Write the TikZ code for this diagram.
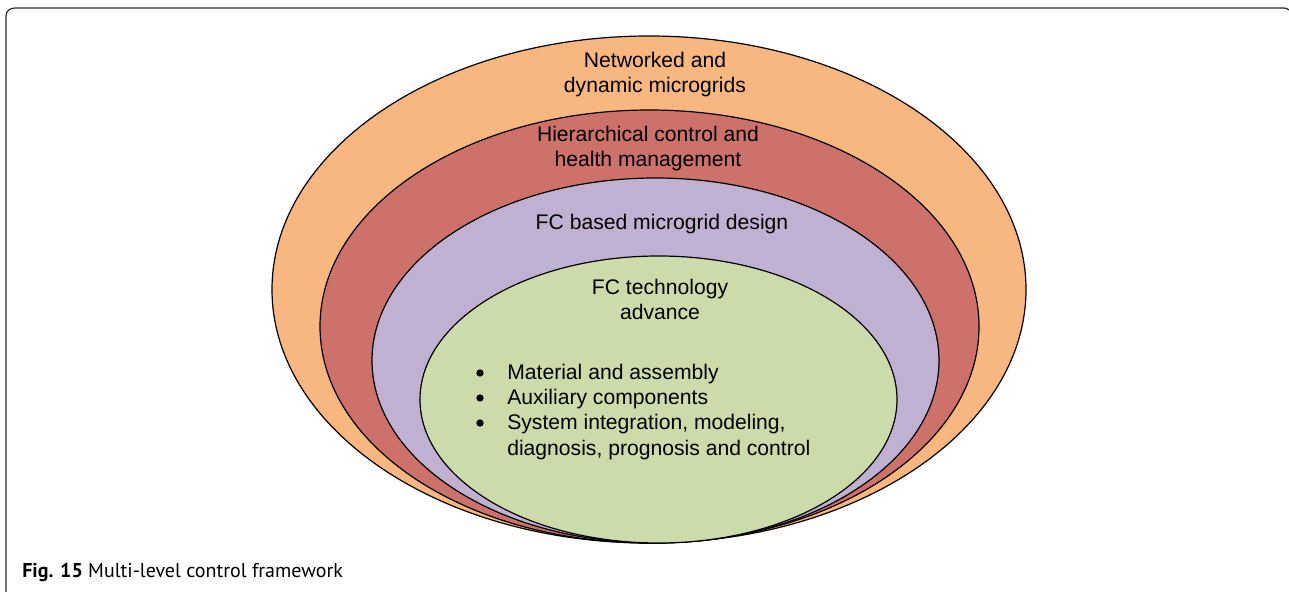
\documentclass[tikz,border=0pt]{standalone}
\usepackage{fontspec}
\setmainfont{Liberation Sans}
\newfontfamily\capfont{PT Sans}
\usepackage{tikz}

\definecolor{ringorange}{RGB}{248,183,128}
\definecolor{ringred}{RGB}{205,114,106}
\definecolor{ringpurple}{RGB}{192,177,211}
\definecolor{ringgreen}{RGB}{204,219,170}

\tikzset{
  ring/.style={draw=black, line width=0.9pt},
  label/.style={inner sep=0.75pt, align=center, font=\fontsize{15.85}{19}\selectfont},
  item/.style={inner sep=0.75pt, anchor=west, font=\fontsize{15.85}{19}\selectfont},
  dot/.style={circle, fill=black, inner sep=0pt, minimum size=5.5pt}
}

\begin{document}
\begin{tikzpicture}[x=0.75pt,y=0.75pt,yscale=-1,xscale=1]
\useasboundingbox (0,0) rectangle (1289,592);

%Frame
\draw [color={rgb, 255:red, 40; green, 40; blue, 40 }, line width=0.9pt] (6,592) -- (6,16) .. controls (6,11) and (10,8) .. (15,8) -- (1284,8) .. controls (1286,8) and (1288,9) .. (1289,10) ;

%Shape: Ellipse
\draw [ring, fill=ringorange] (649,289.5) ellipse (377 and 253.5) ;
%Shape: Ellipse
\draw [ring, fill=ringred] (649.5,326.5) ellipse (329.5 and 216.5) ;
%Shape: Ellipse
\draw [ring, fill=ringpurple] (655.5,360.5) ellipse (283.5 and 182.5) ;
%Shape: Ellipse
\draw [ring, fill=ringgreen] (658.5,399.5) ellipse (238.5 and 143.5) ;

% Text Node
\node [label] (net) at (655,74.5) {Networked and\\dynamic microgrids};
% Text Node
\node [label] (hier) at (648,148.5) {Hierarchical control and\\health management};
% Text Node
\node [label] (design) at (662,224) {FC based microgrid design};
% Text Node
\node [label] (tech) at (660,299.5) {FC technology\\advance};

% Text Node
\node [dot] (b1) at (480,373) {};
\node [item] (m1) at (506,374) {Material and assembly};
% Text Node
\node [dot] (b2) at (480,398) {};
\node [item] (m2) at (506,399) {Auxiliary components};
% Text Node
\node [dot] (b3) at (480,423) {};
\node [item] (m3) at (506,424) {System integration, modeling,};
\node [item] (m4) at (506,450) {diagnosis, prognosis and control};

% Caption
\node [anchor=west, inner sep=0pt, font=\capfont\fontsize{15}{18}\selectfont] (cap) at (22,572) {\textbf{Fig. 15} Multi-level control framework};

\end{tikzpicture}
\end{document}
